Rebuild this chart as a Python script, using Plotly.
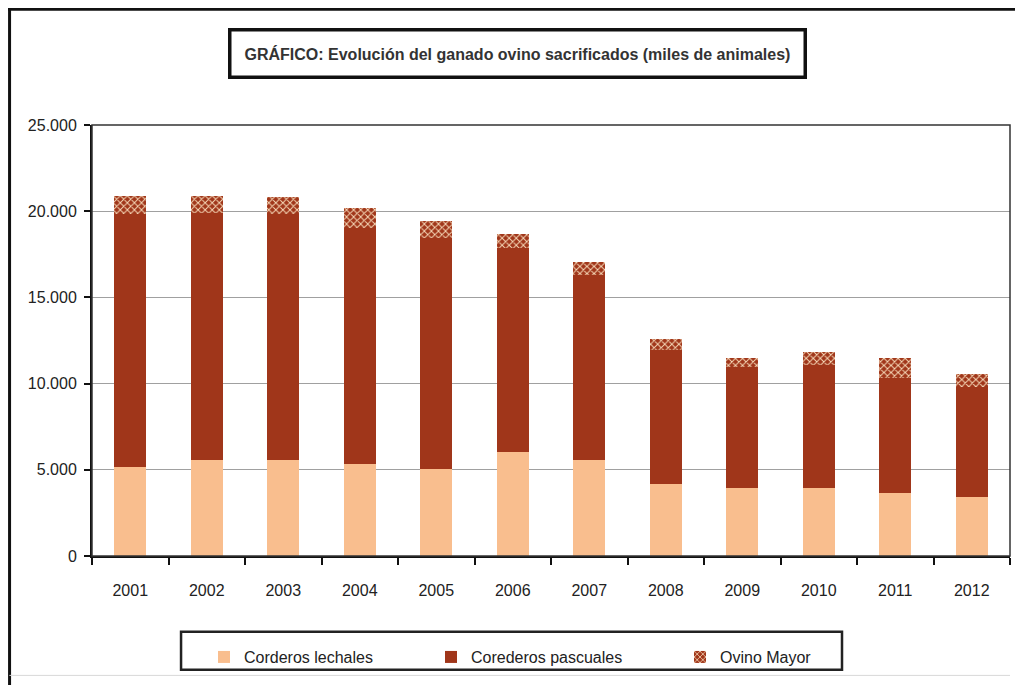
import plotly.graph_objects as go

# miles de animales
anios = ["2001", "2002", "2003", "2004", "2005", "2006",
         "2007", "2008", "2009", "2010", "2011", "2012"]
corderos_lechales = [5180, 5570, 5570, 5320, 5050, 6050, 5570, 4180, 3970, 3930, 3670, 3440]
corderos_pascuales = [14650, 14320, 14260, 13700, 13390, 11840, 10740, 7780, 7020, 7160, 6640, 6390]
ovino_mayor = [1080, 1020, 970, 1160, 1000, 800, 740, 630, 480, 750, 1160, 730]
y_ticks = [0, 5000, 10000, 15000, 20000, 25000]

FONT = "Liberation Sans Narrow, Arial Narrow, Liberation Sans, Arial"
CLARO = "#F9BE8E"
OSCURO = "#A0361A"

fig = go.Figure()
fig.add_trace(go.Bar(
    x=anios, y=corderos_lechales, name="Corderos lechales",
    marker=dict(color=CLARO, line=dict(width=0)),
    legendwidth=182,
))
fig.add_trace(go.Bar(
    x=anios, y=corderos_pascuales, name="Corederos pascuales",
    marker=dict(color=OSCURO, line=dict(width=0)),
    legendwidth=204,
))
fig.add_trace(go.Bar(
    x=anios, y=ovino_mayor, name="Ovino Mayor",
    marker=dict(
        color=OSCURO, line=dict(width=0),
        pattern=dict(shape="x", fgcolor="#F6D9B8", bgcolor=OSCURO,
                     size=5, solidity=0.35, fillmode="replace"),
    ),
    legendwidth=100,
))

# la página añade 8 px de margen al cuerpo, por eso la figura es algo menor
fig.update_layout(
    width=1015, height=677,
    barmode="stack", bargap=0.58,
    separators=",.",
    paper_bgcolor="white", plot_bgcolor="white",
    margin=dict(l=84, r=13, t=117, b=129, autoexpand=False),
    font=dict(family=FONT, size=16, color="#222"),
    showlegend=True,
    legend=dict(
        orientation="h", x=0.122, y=-0.195, xanchor="left", yanchor="top",
        borderwidth=0, bgcolor="rgba(0,0,0,0)",
        itemwidth=30,
        font=dict(family=FONT, size=16, color="#222"),
        traceorder="normal",
    ),
    annotations=[dict(
        text="<b>GRÁFICO: Evolución del ganado ovino sacrificados (miles de animales)</b>",
        xref="paper", yref="paper", x=0.464, y=1.165,
        xanchor="center", yanchor="middle", showarrow=False,
        font=dict(family=FONT, size=16, color="#333"),
        bordercolor="#111", borderwidth=3.5, borderpad=13, bgcolor="white",
    )],
    shapes=[
        # marco exterior
        dict(type="line", xref="paper", yref="paper", x0=-0.095, x1=1.02,
             y0=1.2685, y1=1.2685, line=dict(color="#111", width=3)),
        dict(type="line", xref="paper", yref="paper", x0=-0.0898, x1=-0.0898,
             y0=1.271, y1=-0.30, line=dict(color="#111", width=3)),
        dict(type="line", xref="paper", yref="paper", x0=-0.09, x1=1.0,
             y0=-0.277, y1=-0.277, line=dict(color="#d8d8d8", width=1)),
        # recuadro de la leyenda
        dict(type="rect", xref="paper", yref="paper", x0=0.097, x1=0.817,
             y0=-0.176, y1=-0.264, line=dict(color="#222", width=2.5)),
        # borde del área de trazado
        dict(type="rect", xref="paper", yref="paper", x0=0, x1=1, y0=0, y1=1,
             line=dict(color="#333", width=1.5), layer="above"),
    ],
)

fig.update_xaxes(
    type="category", showline=True, linecolor="#111", linewidth=2,
    ticks="outside", tickson="boundaries", ticklen=7, tickcolor="#111",
    tickwidth=2, showgrid=False, ticklabelstandoff=19,
    tickfont=dict(family=FONT, size=16, color="#222"),
)
fig.update_yaxes(
    range=[0, 25000], tickvals=y_ticks, tickformat=",d",
    showline=True, linecolor="#111", linewidth=2,
    ticks="outside", ticklen=6, tickcolor="#111", tickwidth=2,
    showgrid=True, gridcolor="#a0a0a0", gridwidth=1, ticklabelstandoff=4,
    tickfont=dict(family=FONT, size=16, color="#222"),
    zeroline=False,
)

fig.write_html("out.html")
